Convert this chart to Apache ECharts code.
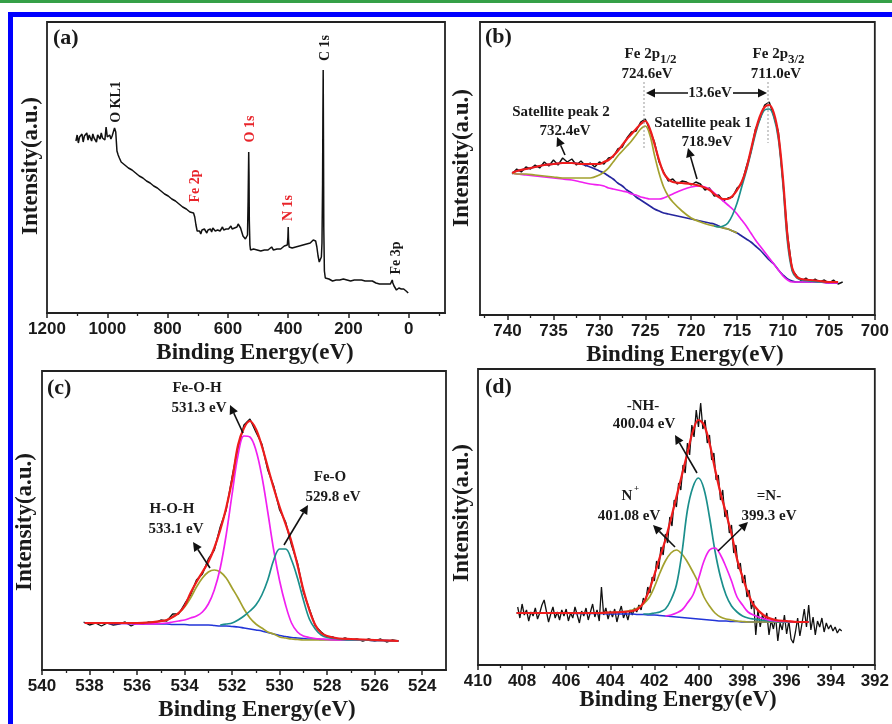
<!DOCTYPE html>
<html><head><meta charset="utf-8">
<script src="https://cdn.jsdelivr.net/npm/echarts@6/dist/echarts.min.js"></script>
<style>html,body{margin:0;padding:0;background:#fff}#c{width:892px;height:724px}</style>
</head><body><div id="c"></div>
<script>
// ---------- (a) survey spectrum ----------
const surveyEnergy = [1104,1100,1096,1092,1088,1084,1080,1076,1072,1068,1064,1060,1056,1052,1048,1044,1040,1036,1032,1028,1024,1020,1016,1012,1008,1004,1000,996,992,988,984,980,976,972,968,964,
960,954,948,942,936,930,924,918,912,906,900,894,888,882,876,870,864,858,852,846,840,834,828,822,816,810,804,798,792,786,780,774,768,762,756,750,744,738,732,726,720,714,710,706,702,
698,694,690,686,682,678,674,670,666,662,658,654,650,646,642,638,634,630,626,622,618,614,610,606,602,598,594,590,586,582,578,574,570,566,562,558,554,550,546,542,538,535,533,531,530,529,527,525,
521,515,509,503,497,491,485,479,473,467,461,455,449,443,437,431,425,419,413,407,403,401,400,399,397,393,387,381,375,369,363,357,351,345,339,333,327,321,317,313,309,305,301,297,293,290,288,286,285,284,283,282,280,277,274,
271,265,259,253,247,241,235,229,223,217,211,205,199,193,187,181,175,169,163,157,151,145,139,133,127,121,115,109,103,97,91,85,79,73,67,61,57,55,53,49,45,41,37,33,29,25,21,17,13,9,5,2];
const surveyIntensity = [172,178,170,176,174,179,171,177,175,180,173,178,176,172,179,175,177,171,178,176,174,180,175,177,173,186,176,175,178,174,177,176,185,181,162,158,
155,151,153,148,150,145,147,143,145,140,142,137,139,135,137,132,134,130,132,127,129,125,127,122,124,119,121,117,119,114,116,112,113,109,111,106,108,104,105,101,103,100,96,88,82,
80,82,79,83,81,84,82,80,83,82,84,81,85,83,82,84,83,85,82,84,86,83,85,84,86,84,85,87,84,86,85,87,86,89,88,85,81,77,75,74,73,78,112,161,138,92,68,63,
62,64,62,63,65,62,64,63,65,63,64,66,63,65,64,66,64,65,67,65,68,76,86,74,66,67,65,67,66,68,67,69,68,70,69,71,70,72,73,74,72,66,57,51,52,56,70,130,195,243,170,85,42,35,33,
33,34,33,32,34,33,34,33,32,34,33,33,34,32,33,33,32,33,32,33,32,32,31,32,31,32,31,30,30,29,29,29,28,29,28,29,31,33,30,27,25,23,24,25,25,24,25,24,22,22,21,20];
const surveyTicks = [0,200,400,600,800,1000,1200];
const surveyMinorTicks = [-100,100,300,500,700,900,1100];

// ---------- (b) Fe 2p ----------
const rawEnergyB = [739.5,739,738.5,738,737.5,737,736.5,736,735.5,735,734.5,734,733.5,733,732.5,732,731.5,731,730.5,730,729.5,729,728.5,728,727.5,727,726.5,726,725.5,725,724.5,724,723.5,723,722.5,722,721.5,721,720.5,720,719.5,719,718.5,718,717.5,717,716.5,716,715.5,715,714.5,714,713.5,713,712.5,712,711.5,711,710.5,710,709.5,709,708.5,708,707.5,707,706.5,706,705.5,705,704.5,704,703.5];
const rawB = [141,146,143,148,146,150,147,153,149,155,150,157,153,156,150,154,149,152,148,153,151,157,158,166,168,177,183,184,193,196,185,173,153,143,134,136,131,134,133,130,133,131,125,127,119,120,114,117,118,127,131,148,163,186,196,210,213,199,183,133,80,45,39,34,37,33,36,33,35,32,35,31,33];
const energyB = [739.5,739,738,737,736,735,734,733,732,731,730,729.5,729,728.5,728,727.5,727,726.5,726,725.5,725,724.5,724,723.5,723,722.5,722,721,720,719,718,717.5,717,716.5,716,715.5,715,714.5,714,713.5,713,712.5,712,711.5,711,710.5,710,709.5,709,708.5,708,707,706,705,704];
const fitB = [142,144,146,148,150,151,152,152,151,151,151,153,155,159,164,170,176,181,186,191,194,186,171,155,142,136,133,132,131,129,125,121,118,116,116,119,125,133,146,165,184,199,208,210,202,180,136,78,47,38,36,35,34,33,33];
const backgroundB = [142,144,146,148,150,151,152,152,151,148,144,142,139,136,132,129,125,122,118,115,112,109,106,104,102,101,100,98,96,94,92,91,89,87,86,84,82,79,76,73,69,65,60,55,51,45,40,36,34,33,33,33,33,32,32];
const fe2p12B = [142,141,141,140,139,138,137,137,137,137,140,143,147,153,159,164,169,174,180,186,189,180,160,142,128,119,113,104,97,93,90,89,88,87,86,84,82,null,null,null,null,null,null,null,null,null,null,null,null,null,null,null,null,null,null];
const satelliteB = [142,141,140,139,138,137,136,135,133,131,130,129,127,126,125,124,123,121,120,118,117,116,116,116,117,119,121,125,128,129,126,122,118,114,110,106,101,95,89,82,75,69,63,57,51,45,39,35,33,33,33,33,33,32,32];
const fe2p32B = [null,null,null,null,null,null,null,null,null,null,null,null,null,null,null,null,null,null,null,null,null,null,null,null,null,null,null,null,null,null,null,89,88,89,92,100,112,128,144,162,181,196,205,206,198,176,130,72,44,37,35,34,33,33,33];
const ticksB = [700,705,710,715,720,725,730,735,740];
const minorTicksB = [702.5,707.5,712.5,717.5,722.5,727.5,732.5,737.5,742.5];

// ---------- (c) O 1s ----------
const rawEnergyC = [538.25,538,537.75,537.5,537.25,537,536.75,536.5,536.25,536,535.75,535.5,535.25,535,534.75,534.5,534.25,534,533.75,533.5,533.25,533,532.75,532.5,532.25,532,531.75,531.5,531.25,531,530.75,530.5,530.25,530,529.75,529.5,529.25,529,528.75,528.5,528.25,528,527.75,527.5,527.25,527,526.75,526.5,526.25,526,525.75,525.5,525.25,525];
const rawC = [48,45,47,44,47,45,46,48,44,47,46,48,47,50,49,56,56,66,75,90,96,111,120,143,160,193,223,245,251,238,226,200,184,160,148,125,107,78,61,44,38,33,33,30,32,30,31,29,31,29,31,28,30,29];
const energyC = [538.2,537.5,537,536.5,536,535.5,535,534.75,534.5,534.25,534,533.75,533.5,533.25,533,532.75,532.5,532.25,532,531.75,531.5,531.25,531,530.75,530.5,530.25,530,529.75,529.5,529.25,529,528.75,528.5,528.25,528,527.5,527,526.5,526,525.5,525];
const fitC = [47,47,47,47,47,47.5,49,50,53,57,64,77,88,98,108,122,140,162,190,225,242,249,241,224,203,182,163,146,128,105,80,60,45,37,34,31.5,31,30.5,30,29.5,29];
const backgroundC = [47,47,46.5,46.5,46,46,46,46,45.5,45.5,45.5,45,45,45,45,44.5,44,44,43.5,43,42,41,40,39,37.5,36,34.5,33.5,32.5,32,31.5,31,31,30.5,30.5,30,30,30,29.5,29.5,29];
const hohC = [47,47,47,47,47,47.5,48.5,50,53,57,63,72,83,92,98,100,98,92,82,72,61,52,46,42,38,36,33,32,31,30.5,30,30,30,30,30,30,30,30,29.5,29.5,29];
const feohC = [47,47,46.5,46.5,46,46,46.5,47,48,49,50,52,54,58,66,80,102,135,176,215,234,233,220,194,158,120,89,65,47,38,34,32.5,31.5,31,30.5,30,30,30,29.5,29.5,29];
const feoC = [null,null,null,null,null,null,null,null,null,null,null,null,null,null,null,null,45,46,47,50,54,59,65,75,90,110,121,121,110,92,70,51,41,35,32.5,31,30,30,29.5,29.5,29];
const ticksC = [524,526,528,530,532,534,536,538,540];
const minorTicksC = [525,527,529,531,533,535,537,539];

// ---------- (d) N 1s ----------
const rawEnergyD = [408.2,408.1,408.0,407.9,407.8,407.7,407.6,407.5,407.4,407.3,
407.2,407.1,407.0,406.9,406.8,406.7,406.6,406.5,406.4,406.3,
406.2,406.1,406.0,405.9,405.8,405.7,405.6,405.5,405.4,405.3,
405.2,405.1,405.0,404.9,404.8,404.7,404.6,404.5,404.4,404.3,
404.2,404.1,404.0,403.9,403.8,403.7,403.6,403.5,403.4,403.3,
403.2,403.1,403.0,402.9,402.8,402.7,402.6,402.5,402.4,402.3,
402.2,402.1,402.0,401.9,401.8,401.7,401.6,401.5,401.4,401.3,
401.2,401.1,401.0,400.9,400.8,400.7,400.6,400.5,400.4,400.3,
400.2,400.1,400.0,399.9,399.8,399.7,399.6,399.5,399.4,399.3,
399.2,399.1,399.0,398.9,398.8,398.7,398.6,398.5,398.4,398.3,
398.2,398.1,398.0,397.9,397.8,397.7,397.6,397.5,397.4,397.3,
397.2,397.1,397.0,396.9,396.8,396.7,396.6,396.5,396.4,396.3,
396.2,396.1,396.0,395.9,395.8,395.7,395.6,395.5,395.4,395.3,
395.2,395.1,395.0,394.9,394.8,394.7,394.6,394.5,394.4,394.3,
394.2,394.1,394.0,393.9,393.8,393.7,393.6,393.5];
const rawD = [58,47,61,50,55,44,53,49,57,46,
52,60,65,54,43,51,58,47,53,45,
55,49,56,44,52,47,58,50,42,54,
49,57,45,53,61,48,55,44,78,50,
57,46,54,48,56,43,52,59,47,53,
45,55,50,57,53,60,55,67,63,78,
72,88,84,104,96,118,110,131,122,148,
139,165,158,182,175,200,192,222,210,240,
228,255,238,262,236,245,222,230,205,212,
185,190,165,175,148,155,132,140,112,120,
96,102,82,90,68,75,56,64,30,55,
38,50,44,52,30,45,36,48,24,42,
35,50,31,44,26,22,33,47,29,42,
56,38,60,35,48,30,44,38,47,33,
42,36,40,34,38,32,36,34];
const energyD = [408.25,407.5,407,406.5,406,405.5,405,404.5,404,403.5,403,402.75,402.5,402.25,402,401.75,401.5,401.25,401,400.75,400.5,400.25,400,399.75,399.5,399.25,399,398.75,398.5,398.25,398,397.75,397.5,397,396.5,396,395.5,395];
const fitD = [52,52,52,52,52,52,52,52,52.5,53,54,56,62,74,90,108,125,146,168,190,212,234,245,240,222,196,172,152,131,106,88,72,60,49,45,44,43,43];
const backgroundD = [52,52,52,52,52,51.5,51.5,51.5,51,51,51,50.5,50.5,50,50,49.5,49,48.5,48,47.5,47,46.5,46,45.5,45,44.5,44,44,43.5,43.5,43,43,43,43,43,43,43,43];
const nPlusD = [52,52,52,52,52,52,52,52,52.5,53,55,57,61,67,78,92,104,112,115,111,103,93,82,68,59,52,48,46,45,44,43.5,43,43,43,43,43,43,43];
const nhD = [null,null,null,null,null,null,null,null,null,null,null,null,51,51,52,53,56,65,80,112,155,178,187,176,148,114,88,70,59,53,49,47,46,44.5,43.5,43,43,43];
const imineD = [null,null,null,null,null,null,null,null,null,null,null,null,null,null,null,null,49,50,52,55,62,70,86,104,115,117,110,98,84,68,60,53,50,46,44,43.5,43,43];
const ticksD = [392,394,396,398,400,402,404,406,408,410];
const minorTicksD = [393,395,397,399,401,403,405,407,409];

// ---------- chart ----------
const SERIF = '"Liberation Serif","Times New Roman",serif';
const SANS = '"Liberation Sans",Arial,sans-serif';
const INK = '#1a1a1a';
const RED = '#ee1c1c', OLIVE = '#a3a12e', MAG = '#f020f0', TEAL = '#1b8f8c';

const grids = [
  {left:47, top:22, width:398, height:291},
  {left:480, top:22, width:397, height:293},
  {left:42, top:371, width:404, height:299},
  {left:478, top:369, width:398, height:296}
];
const xRanges = [[-120,1200],[700,743],[523,540],[392,410]];
const majors = [surveyTicks, ticksB, ticksC, ticksD];
const minors = [surveyMinorTicks, minorTicksB, minorTicksC, minorTicksD];

const xAxes = [];
grids.forEach((g, i) => {
  xAxes.push({type:'value', gridIndex:i, min:xRanges[i][0], max:xRanges[i][1], inverse:true, position:'bottom',
    axisLine:{show:true, onZero:false, lineStyle:{color:'#222', width:1.8}},
    axisTick:{show:true, inside:false, length:5, customValues:majors[i], lineStyle:{color:'#222', width:1.5}},
    axisLabel:{show:true, customValues:majors[i], margin:8, fontFamily:SANS, fontWeight:'bold', fontSize:17, color:INK,
      formatter: v => String(v)},
    splitLine:{show:false}});
  xAxes.push({type:'value', gridIndex:i, min:xRanges[i][0], max:xRanges[i][1], inverse:true, position:'bottom',
    axisLine:{show:false, onZero:false},
    axisTick:{show:true, inside:false, length:3, customValues:minors[i], lineStyle:{color:'#222', width:1.3}},
    axisLabel:{show:false}, splitLine:{show:false}});
});
const yAxes = grids.map((g, i) => ({type:'value', gridIndex:i, min:0, max:g.height,
  axisLine:{show:false}, axisTick:{show:false}, axisLabel:{show:false}, splitLine:{show:false}}));

function pairs(xs, ys) { return xs.map((x, k) => [x, ys[k]]).filter(p => p[1] !== null); }
function line(gi, xs, ys, color, width, smooth) {
  return {type:'line', xAxisIndex:gi*2, yAxisIndex:gi, data:pairs(xs, ys), symbol:'none',
    smooth: smooth ? 0.35 : false, lineStyle:{color:color, width:width}, silent:true, animation:false};
}

const series = [
  line(0, surveyEnergy, surveyIntensity, '#111', 1.5, false),

  line(1, rawEnergyB, rawB, '#111', 1.4, false),
  line(1, energyB, backgroundB, '#26269e', 1.7, true),
  line(1, energyB, satelliteB, MAG, 1.7, true),
  line(1, energyB, fe2p12B, OLIVE, 1.7, true),
  line(1, energyB, fe2p32B, TEAL, 1.7, true),
  line(1, energyB, fitB, RED, 2.2, true),

  line(2, rawEnergyC, rawC, '#111', 1.4, false),
  line(2, energyC, backgroundC, '#2235d8', 1.6, true),
  line(2, energyC, hohC, OLIVE, 1.7, true),
  line(2, energyC, feohC, MAG, 1.7, true),
  line(2, energyC, feoC, TEAL, 1.7, true),
  line(2, energyC, fitC, RED, 2.2, true),

  line(3, rawEnergyD, rawD, '#111', 1.3, false),
  line(3, energyD, backgroundD, '#2235d8', 1.6, true),
  line(3, energyD, nPlusD, OLIVE, 1.7, true),
  line(3, energyD, nhD, TEAL, 1.7, true),
  line(3, energyD, imineD, MAG, 1.7, true),
  line(3, energyD, fitD, RED, 2.2, true)
];

function T(x, y, text, o) {
  o = o || {};
  return {type:'text', x:x, y:y, rotation:o.rot || 0, z:100,
    style:{text:text, fontFamily:o.ff || SERIF, fontWeight:'bold', fontSize:o.fs || 15,
      fill:o.c || INK, align:o.align || 'center', verticalAlign:'middle'}};
}
function arrow(x1, y1, x2, y2) {
  const dx = x2 - x1, dy = y2 - y1, L = Math.hypot(dx, dy), ux = dx / L, uy = dy / L;
  const hl = 9, hw = 4.5, bx = x2 - ux * hl, by = y2 - uy * hl;
  return [
    {type:'line', z:100, shape:{x1:x1, y1:y1, x2:bx, y2:by}, style:{stroke:'#111', lineWidth:1.6}},
    {type:'polygon', z:100, shape:{points:[[x2, y2], [bx - uy * hw, by + ux * hw], [bx + uy * hw, by - ux * hw]]}, style:{fill:'#111'}}
  ];
}
const ROT = Math.PI / 2;
const graphics = [
  {type:'rect', shape:{x:0, y:0, width:892, height:3}, style:{fill:'#35a047'}, z:0},
  {type:'rect', shape:{x:8, y:12, width:884, height:5}, style:{fill:'#0000ff'}, z:0},
  {type:'rect', shape:{x:8, y:12, width:5, height:712}, style:{fill:'#0000ff'}, z:0},
  // panel letters
  T(53, 38, '(a)', {fs:22, align:'left'}), T(485, 37, '(b)', {fs:22, align:'left'}),
  T(47, 388, '(c)', {fs:22, align:'left'}), T(485, 387, '(d)', {fs:22, align:'left'}),
  // axis titles
  T(255, 353, 'Binding Energy(eV)', {fs:23}), T(685, 355, 'Binding Energy(eV)', {fs:23}),
  T(257, 710, 'Binding Energy(eV)', {fs:23}), T(678, 700, 'Binding Energy(eV)', {fs:23}),
  T(31, 166, 'Intensity(a.u.)', {fs:23, rot:ROT}), T(462, 158, 'Intensity(a.u.)', {fs:23, rot:ROT}),
  T(25, 522, 'Intensity(a.u.)', {fs:23, rot:ROT}), T(462, 513, 'Intensity(a.u.)', {fs:23, rot:ROT}),
  // (a) peak labels
  T(116, 102, 'O KL1', {fs:14, rot:ROT}),
  T(195, 186, 'Fe 2p', {fs:14, rot:ROT, c:'#e8242a'}),
  T(250, 129, 'O 1s', {fs:14, rot:ROT, c:'#e8242a'}),
  T(288, 208, 'N 1s', {fs:14, rot:ROT, c:'#e8242a'}),
  T(325, 48, 'C 1s', {fs:14, rot:ROT}),
  T(396, 258, 'Fe 3p', {fs:14, rot:ROT}),
  // (b)
  T(660, 54, 'Fe 2p', {fs:15, align:'right'}), T(660, 60, '1/2', {fs:13, align:'left'}),
  T(647, 74, '724.6eV', {fs:15}),
  T(788, 54, 'Fe 2p', {fs:15, align:'right'}), T(788, 60, '3/2', {fs:13, align:'left'}),
  T(776, 74, '711.0eV', {fs:15}),
  {type:'line', z:90, shape:{x1:644, y1:82, x2:644, y2:148}, style:{stroke:'#999', lineWidth:1, lineDash:[2,2]}},
  {type:'line', z:90, shape:{x1:768, y1:82, x2:768, y2:143}, style:{stroke:'#999', lineWidth:1, lineDash:[2,2]}},
  T(710, 93, '13.6eV', {fs:15}),
  ...arrow(688, 93, 646, 93), ...arrow(733, 93, 767, 93),
  T(561, 112, 'Satellite peak 2', {fs:15}), T(565, 131, '732.4eV', {fs:15}),
  ...arrow(565, 155, 557, 137),
  T(703, 123, 'Satellite peak 1', {fs:15}), T(707, 142, '718.9eV', {fs:15}),
  ...arrow(697, 179, 688, 148),
  // (c)
  T(197, 388, 'Fe-O-H', {fs:15}), T(199, 408, '531.3 eV', {fs:15}),
  ...arrow(243, 433, 230, 405),
  T(172, 509, 'H-O-H', {fs:15}), T(176, 529, '533.1 eV', {fs:15}),
  ...arrow(210, 568, 193, 542),
  T(330, 477, 'Fe-O', {fs:15}), T(333, 497, '529.8 eV', {fs:15}),
  ...arrow(284, 545, 308, 505),
  // (d)
  T(643, 406, '-NH-', {fs:15}), T(644, 424, '400.04 eV', {fs:15}),
  ...arrow(697, 473, 675, 435),
  T(627, 496, 'N', {fs:15}), T(634, 489, '+', {fs:9, align:'left'}),
  T(629, 516, '401.08 eV', {fs:15}),
  ...arrow(675, 547, 653, 525),
  T(769, 496, '=N-', {fs:15}), T(769, 516, '399.3 eV', {fs:15}),
  ...arrow(718, 551, 748, 522)
];

const chart = echarts.init(document.getElementById('c'), null, {renderer:'canvas', width:892, height:724});
chart.setOption({
  backgroundColor:'#ffffff',
  animation:false,
  grid: grids.map(g => Object.assign({show:true, borderColor:'#222', borderWidth:1.8, backgroundColor:'transparent'}, g)),
  xAxis: xAxes,
  yAxis: yAxes,
  series: series,
  graphic: graphics
});
</script>
</body></html>
